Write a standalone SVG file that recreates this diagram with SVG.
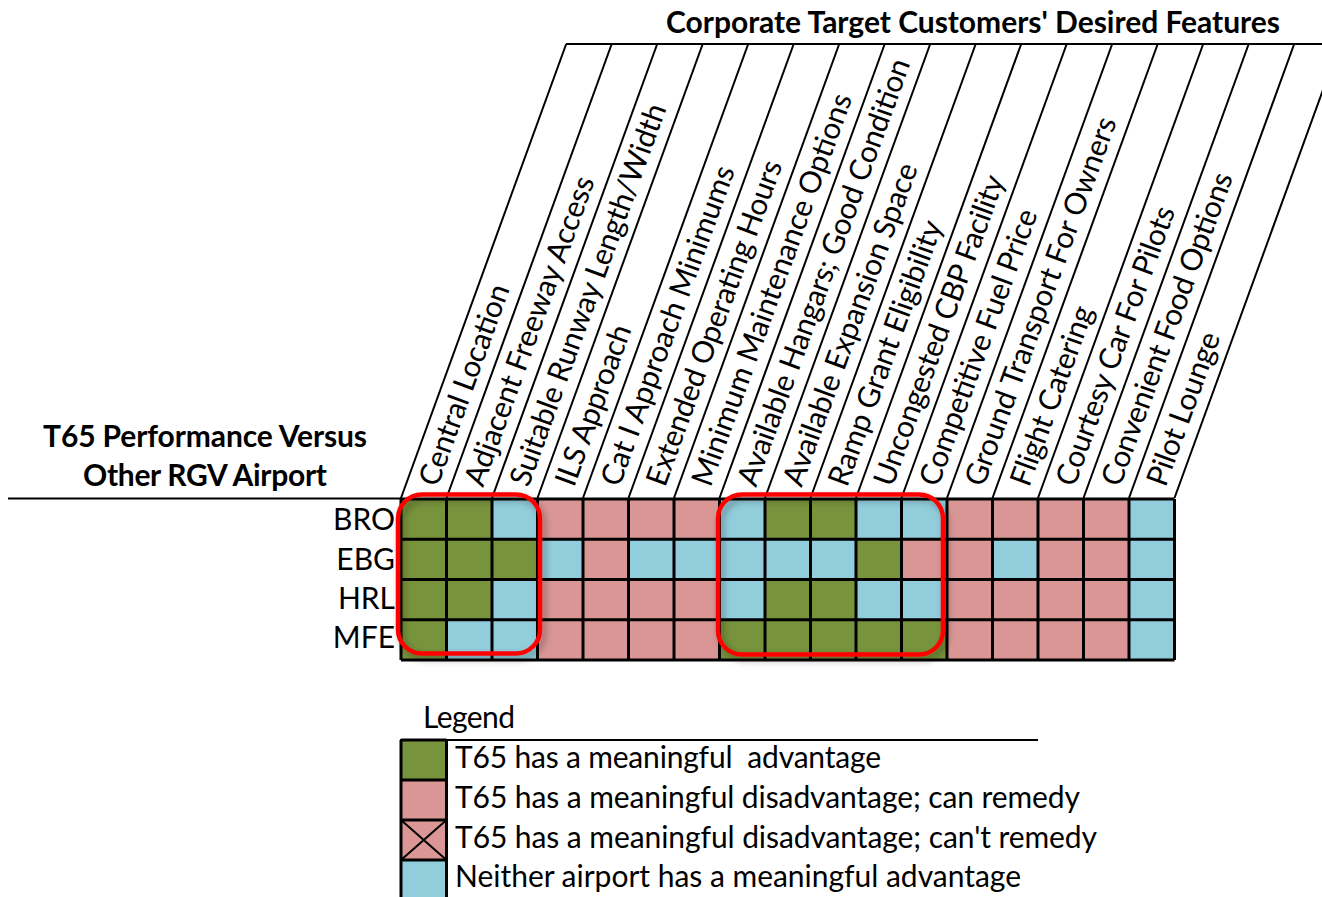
<svg xmlns="http://www.w3.org/2000/svg" width="1322" height="897" viewBox="0 0 1322 897">
  <style>
    text { font-family: Lato, "Open Sans", "Liberation Sans", sans-serif; font-size: 30px; fill: #000; }
    .bold { font-weight: bold; }
    .g { fill: #77933C; }
    .p { fill: #D99694; }
    .b { fill: #92CDDC; }
    .grid { stroke: #000; stroke-width: 3; fill: none; }
    .thin { stroke: #000; stroke-width: 2; fill: none; }
    .hl { fill: none; stroke: #FF0000; stroke-width: 4.5; filter: url(#shadow); }
  </style>
  <defs>
    <filter id="shadow" x="-20%" y="-20%" width="140%" height="140%">
      <feDropShadow dx="3" dy="4" stdDeviation="3.5" flood-color="#000" flood-opacity="0.35"/>
    </filter>
  </defs>

  <rect width="1322" height="897" fill="#fff"/>

  <!-- headings -->
  <g id="title-features">
    <text class="bold" x="666" y="33" textLength="614">Corporate Target Customers' Desired Features</text>
  </g>
  <g id="title-performance">
    <text class="bold" x="205" y="447" text-anchor="middle" textLength="324">T65 Performance Versus</text>
    <text class="bold" x="205" y="486" text-anchor="middle" textLength="244">Other RGV Airport</text>
  </g>

  <!-- header frame: slanted column dividers and rules -->
  <g id="connectors">
    <line class="thin" x1="566" y1="44" x2="1322" y2="44"/>
    <line class="thin" x1="8" y1="498.5" x2="401" y2="498.5"/>
    <line class="thin" x1="401" y1="498" x2="566.2" y2="44"/>
    <line class="thin" x1="446.5" y1="498" x2="611.7" y2="44"/>
    <line class="thin" x1="492" y1="498" x2="657.2" y2="44"/>
    <line class="thin" x1="537.5" y1="498" x2="702.7" y2="44"/>
    <line class="thin" x1="583" y1="498" x2="748.2" y2="44"/>
    <line class="thin" x1="628.5" y1="498" x2="793.7" y2="44"/>
    <line class="thin" x1="674" y1="498" x2="839.2" y2="44"/>
    <line class="thin" x1="719.5" y1="498" x2="884.7" y2="44"/>
    <line class="thin" x1="765" y1="498" x2="930.2" y2="44"/>
    <line class="thin" x1="810.5" y1="498" x2="975.7" y2="44"/>
    <line class="thin" x1="856" y1="498" x2="1021.2" y2="44"/>
    <line class="thin" x1="901.5" y1="498" x2="1066.7" y2="44"/>
    <line class="thin" x1="947" y1="498" x2="1112.2" y2="44"/>
    <line class="thin" x1="992.5" y1="498" x2="1157.7" y2="44"/>
    <line class="thin" x1="1038" y1="498" x2="1203.2" y2="44"/>
    <line class="thin" x1="1083.5" y1="498" x2="1248.7" y2="44"/>
    <line class="thin" x1="1129" y1="498" x2="1294.2" y2="44"/>
    <line class="thin" x1="1174.5" y1="498" x2="1339.7" y2="44"/>
  </g>

  <!-- column headings, rotated along the dividers -->
  <g id="col-labels">
    <text transform="translate(437.5,488) rotate(-70)" textLength="212">Central Location</text>
    <text transform="translate(483,488) rotate(-70)" textLength="327">Adjacent Freeway Access</text>
    <text transform="translate(528.5,488) rotate(-70)" textLength="404">Suitable Runway Length/Width</text>
    <text transform="translate(574,488) rotate(-70)" textLength="169">ILS Approach</text>
    <text transform="translate(619.5,488) rotate(-70)" textLength="338">Cat I Approach Minimums</text>
    <text transform="translate(665,488) rotate(-70)" textLength="344">Extended Operating Hours</text>
    <text transform="translate(710.5,488) rotate(-70)" textLength="415">Minimum Maintenance Options</text>
    <text transform="translate(756,488) rotate(-70)" textLength="452">Available Hangars; Good Condition</text>
    <text transform="translate(801.5,488) rotate(-70)" textLength="341">Available Expansion Space</text>
    <text transform="translate(847,488) rotate(-70)" textLength="280">Ramp Grant Eligibility</text>
    <text transform="translate(892.5,488) rotate(-70)" textLength="328">Uncongested CBP Facility</text>
    <text transform="translate(938,488) rotate(-70)" textLength="292">Competitive Fuel Price</text>
    <text transform="translate(983.5,488) rotate(-70)" textLength="390">Ground Transport For Owners</text>
    <text transform="translate(1029,488) rotate(-70)" textLength="189">Flight Catering</text>
    <text transform="translate(1074.5,488) rotate(-70)" textLength="295">Courtesy Car For Pilots</text>
    <text transform="translate(1120,488) rotate(-70)" textLength="331">Convenient Food Options</text>
    <text transform="translate(1165.5,488) rotate(-70)" textLength="161">Pilot Lounge</text>
  </g>

  <!-- row headings -->
  <g id="row-labels">
    <text x="395" y="530" text-anchor="end">BRO</text>
    <text x="395" y="569.5" text-anchor="end">EBG</text>
    <text x="395" y="609" text-anchor="end">HRL</text>
    <text x="395" y="648" text-anchor="end">MFE</text>
  </g>

  <!-- rating matrix -->
  <g id="matrix">
    <!-- BRO -->
    <rect class="g" x="401" y="499" width="45.5" height="40.25"/>
    <rect class="g" x="446.5" y="499" width="45.5" height="40.25"/>
    <rect class="b" x="492" y="499" width="45.5" height="40.25"/>
    <rect class="p" x="537.5" y="499" width="45.5" height="40.25"/>
    <rect class="p" x="583" y="499" width="45.5" height="40.25"/>
    <rect class="p" x="628.5" y="499" width="45.5" height="40.25"/>
    <rect class="p" x="674" y="499" width="45.5" height="40.25"/>
    <rect class="b" x="719.5" y="499" width="45.5" height="40.25"/>
    <rect class="g" x="765" y="499" width="45.5" height="40.25"/>
    <rect class="g" x="810.5" y="499" width="45.5" height="40.25"/>
    <rect class="b" x="856" y="499" width="45.5" height="40.25"/>
    <rect class="b" x="901.5" y="499" width="45.5" height="40.25"/>
    <rect class="p" x="947" y="499" width="45.5" height="40.25"/>
    <rect class="p" x="992.5" y="499" width="45.5" height="40.25"/>
    <rect class="p" x="1038" y="499" width="45.5" height="40.25"/>
    <rect class="p" x="1083.5" y="499" width="45.5" height="40.25"/>
    <rect class="b" x="1129" y="499" width="45.5" height="40.25"/>
    <!-- EBG -->
    <rect class="g" x="401" y="539.25" width="45.5" height="40.25"/>
    <rect class="g" x="446.5" y="539.25" width="45.5" height="40.25"/>
    <rect class="g" x="492" y="539.25" width="45.5" height="40.25"/>
    <rect class="b" x="537.5" y="539.25" width="45.5" height="40.25"/>
    <rect class="p" x="583" y="539.25" width="45.5" height="40.25"/>
    <rect class="b" x="628.5" y="539.25" width="45.5" height="40.25"/>
    <rect class="b" x="674" y="539.25" width="45.5" height="40.25"/>
    <rect class="b" x="719.5" y="539.25" width="45.5" height="40.25"/>
    <rect class="b" x="765" y="539.25" width="45.5" height="40.25"/>
    <rect class="b" x="810.5" y="539.25" width="45.5" height="40.25"/>
    <rect class="g" x="856" y="539.25" width="45.5" height="40.25"/>
    <rect class="p" x="901.5" y="539.25" width="45.5" height="40.25"/>
    <rect class="p" x="947" y="539.25" width="45.5" height="40.25"/>
    <rect class="b" x="992.5" y="539.25" width="45.5" height="40.25"/>
    <rect class="p" x="1038" y="539.25" width="45.5" height="40.25"/>
    <rect class="p" x="1083.5" y="539.25" width="45.5" height="40.25"/>
    <rect class="b" x="1129" y="539.25" width="45.5" height="40.25"/>
    <!-- HRL -->
    <rect class="g" x="401" y="579.5" width="45.5" height="40.25"/>
    <rect class="g" x="446.5" y="579.5" width="45.5" height="40.25"/>
    <rect class="b" x="492" y="579.5" width="45.5" height="40.25"/>
    <rect class="p" x="537.5" y="579.5" width="45.5" height="40.25"/>
    <rect class="p" x="583" y="579.5" width="45.5" height="40.25"/>
    <rect class="p" x="628.5" y="579.5" width="45.5" height="40.25"/>
    <rect class="p" x="674" y="579.5" width="45.5" height="40.25"/>
    <rect class="b" x="719.5" y="579.5" width="45.5" height="40.25"/>
    <rect class="g" x="765" y="579.5" width="45.5" height="40.25"/>
    <rect class="g" x="810.5" y="579.5" width="45.5" height="40.25"/>
    <rect class="b" x="856" y="579.5" width="45.5" height="40.25"/>
    <rect class="b" x="901.5" y="579.5" width="45.5" height="40.25"/>
    <rect class="p" x="947" y="579.5" width="45.5" height="40.25"/>
    <rect class="p" x="992.5" y="579.5" width="45.5" height="40.25"/>
    <rect class="p" x="1038" y="579.5" width="45.5" height="40.25"/>
    <rect class="p" x="1083.5" y="579.5" width="45.5" height="40.25"/>
    <rect class="b" x="1129" y="579.5" width="45.5" height="40.25"/>
    <!-- MFE -->
    <rect class="g" x="401" y="619.75" width="45.5" height="40.25"/>
    <rect class="b" x="446.5" y="619.75" width="45.5" height="40.25"/>
    <rect class="b" x="492" y="619.75" width="45.5" height="40.25"/>
    <rect class="p" x="537.5" y="619.75" width="45.5" height="40.25"/>
    <rect class="p" x="583" y="619.75" width="45.5" height="40.25"/>
    <rect class="p" x="628.5" y="619.75" width="45.5" height="40.25"/>
    <rect class="p" x="674" y="619.75" width="45.5" height="40.25"/>
    <rect class="g" x="719.5" y="619.75" width="45.5" height="40.25"/>
    <rect class="g" x="765" y="619.75" width="45.5" height="40.25"/>
    <rect class="g" x="810.5" y="619.75" width="45.5" height="40.25"/>
    <rect class="g" x="856" y="619.75" width="45.5" height="40.25"/>
    <rect class="g" x="901.5" y="619.75" width="45.5" height="40.25"/>
    <rect class="p" x="947" y="619.75" width="45.5" height="40.25"/>
    <rect class="p" x="992.5" y="619.75" width="45.5" height="40.25"/>
    <rect class="p" x="1038" y="619.75" width="45.5" height="40.25"/>
    <rect class="p" x="1083.5" y="619.75" width="45.5" height="40.25"/>
    <rect class="b" x="1129" y="619.75" width="45.5" height="40.25"/>
    <!-- cell borders -->
    <path class="grid" d="M401 499H1174.5M401 539.25H1174.5M401 579.5H1174.5M401 619.75H1174.5M401 660H1174.5
      M401 499V660M446.5 499V660M492 499V660M537.5 499V660M583 499V660M628.5 499V660M674 499V660
      M719.5 499V660M765 499V660M810.5 499V660M856 499V660M901.5 499V660M947 499V660M992.5 499V660
      M1038 499V660M1083.5 499V660M1129 499V660M1174.5 499V660"/>
  </g>

  <!-- highlighted clusters -->
  <g id="highlight-location">
    <rect class="hl" x="398" y="494.5" width="142" height="159" rx="24"/>
  </g>
  <g id="highlight-facilities">
    <rect class="hl" x="718" y="494.5" width="225" height="160" rx="24"/>
  </g>

  <!-- legend -->
  <g id="legend">
    <text x="423" y="728" textLength="92">Legend</text>
    <line class="thin" x1="400" y1="740" x2="1038" y2="740"/>
    <rect class="g" x="401" y="740" width="45.5" height="40"/>
    <rect class="p" x="401" y="780" width="45.5" height="40"/>
    <rect class="p" x="401" y="820" width="45.5" height="40"/>
    <rect class="b" x="401" y="860" width="45.5" height="40"/>
    <path class="grid" d="M401 740H446.5M401 780H446.5M401 820H446.5M401 860H446.5M401 740V900M446.5 740V900"/>
    <path class="thin" d="M401 820L446.5 860M446.5 820L401 860"/>
    <text x="455" y="768" textLength="426" xml:space="preserve">T65 has a meaningful  advantage</text>
    <text x="455" y="808" textLength="625">T65 has a meaningful disadvantage; can remedy</text>
    <text x="455" y="848" textLength="642">T65 has a meaningful disadvantage; can't remedy</text>
    <text x="455" y="887" textLength="566">Neither airport has a meaningful advantage</text>
  </g>
</svg>
